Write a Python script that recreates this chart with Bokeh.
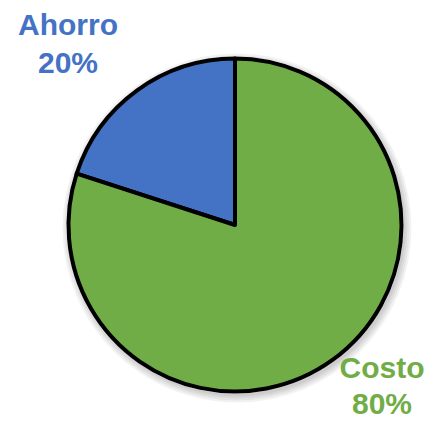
import numpy as np
from bokeh.plotting import figure
from bokeh.models import Range1d, ColumnDataSource
from bokeh.core.properties import value
from bokeh.embed import file_html
from bokeh.resources import INLINE

categories = ["Ahorro", "Costo"]
values = [20, 80]
pct_labels = ["20%", "80%"]
colors = ["#4472C4", "#70AD47"]

W, H = 426, 421
TOP = 437
p = figure(width=W, height=H, output_backend="svg", toolbar_location=None,
           x_range=Range1d(0, W), y_range=Range1d(TOP - H, TOP),
           min_border=0)
p.axis.visible = False
p.grid.visible = False
p.outline_line_color = None
p.background_fill_color = "white"

cx, cy, r = 234.5, TOP - 224.5, 166.5

# soft shadow
for i in range(4):
    p.circle(x=cx + 2, y=cy - 3, radius=r + 2 + 2 * i, fill_color="black",
             fill_alpha=0.05, line_color=None)
p.circle(x=cx, y=cy, radius=r + 2, fill_color="white", line_color=None)

vals = np.array(values, dtype=float)
frac = vals / vals.sum()
start = np.pi / 2 + np.concatenate([[0], np.cumsum(frac)[:-1]]) * 2 * np.pi
end = np.pi / 2 + np.cumsum(frac) * 2 * np.pi
src = ColumnDataSource(dict(start=start, end=end, color=colors, cat=categories))
p.wedge(x=cx, y=cy, radius=r, start_angle="start", end_angle="end",
        direction="anticlock", fill_color="color", line_color="black",
        line_width=4, line_join="round", source=src)

font = value("Liberation Sans")
lx = [67.5, 381.5]
ly1 = [TOP - 24, TOP - 367]
ly2 = [TOP - 62, TOP - 403]
for i in range(2):
    p.text(x=[lx[i]], y=[ly1[i]], text=[categories[i]], text_font=font,
           text_font_size="30px", text_font_style="bold", text_color=colors[i],
           text_align="center", text_baseline="alphabetic")
    p.text(x=[lx[i]], y=[ly2[i]], text=[pct_labels[i]], text_font=font,
           text_font_size="30px", text_font_style="bold", text_color=colors[i],
           text_align="center", text_baseline="alphabetic")

open("out.html", "w").write(file_html(p, INLINE))
